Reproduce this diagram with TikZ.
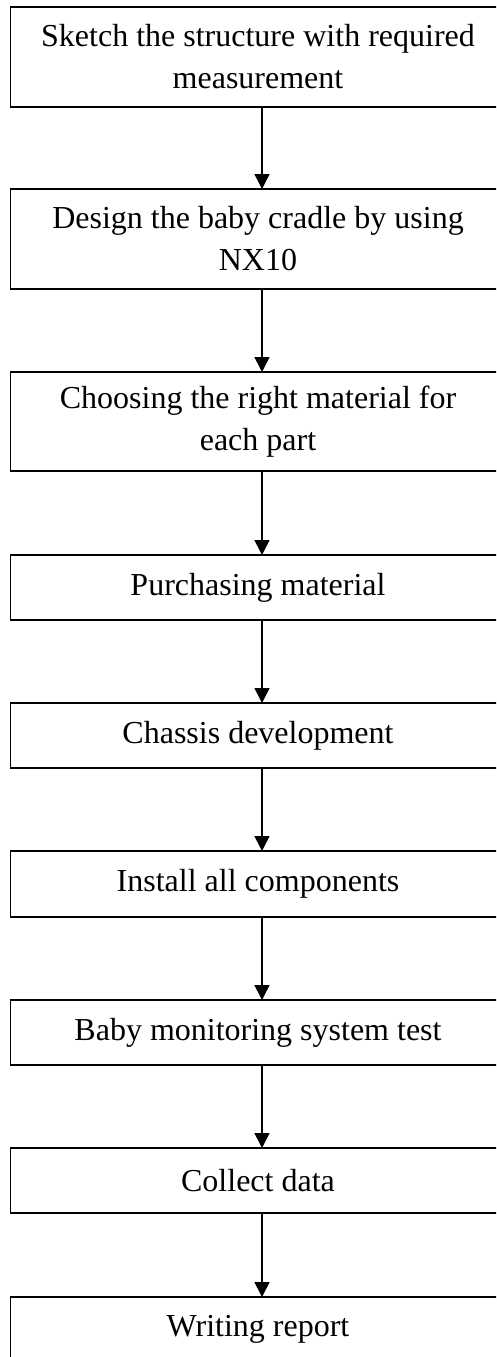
\documentclass[tikz,border=0pt]{standalone}
\usepackage{fontspec}
\setmainfont{Liberation Serif}
\usetikzlibrary{arrows.meta}
\begin{document}
\begin{tikzpicture}[x=1pt,y=-1pt,
  stepbox/.style={draw, line width=1.7pt, minimum width=495pt, inner sep=0pt, outer sep=0pt,
    align=center, font=\fontsize{32}{42}\selectfont},
  flow/.style={line width=1.6pt, -{Triangle[length=15pt,width=15pt]}}]
\useasboundingbox (0,0) rectangle (496,1357);
\clip (0,0) rectangle (496,1357);
\node[stepbox, minimum height=100pt] (s1) at (258,57) {Sketch the structure with required\\measurement};
\node[stepbox, minimum height=100pt] (s2) at (258,239) {Design the baby cradle by using\\NX10};
\node[stepbox, minimum height=99pt] (s3) at (258,421.5) {Choosing the right material for\\each part};
\node[stepbox, minimum height=65pt] (s4) at (258,587.5) {Purchasing material};
\node[stepbox, minimum height=65pt] (s5) at (258,735.5) {Chassis development};
\node[stepbox, minimum height=66pt] (s6) at (258,884) {Install all components};
\node[stepbox, minimum height=65pt] (s7) at (258,1032.5) {Baby monitoring system test};
\node[stepbox, minimum height=65pt] (s8) at (258,1180.5) {Collect data};
\node[stepbox, minimum height=65pt] (s9) at (258,1329.5) {Writing report};
\foreach \a/\b in {s1/s2,s2/s3,s3/s4,s4/s5,s5/s6,s6/s7,s7/s8,s8/s9}
  \draw[flow] ([xshift=4pt]\a.south) -- ([xshift=4pt]\b.north);
\end{tikzpicture}
\end{document}
